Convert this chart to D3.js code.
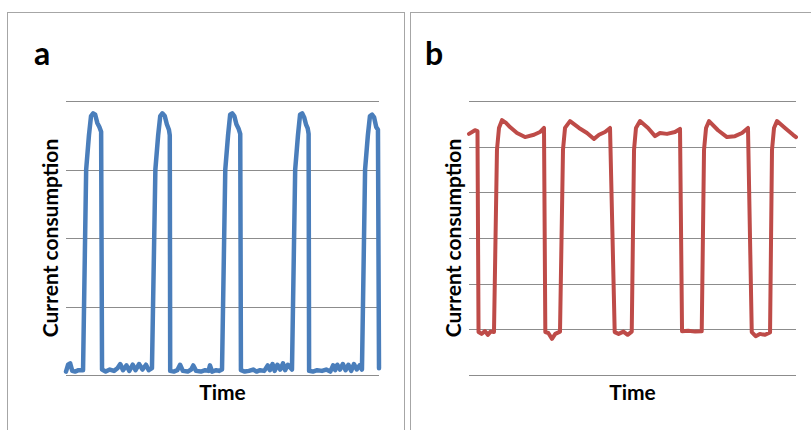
<!DOCTYPE html>
<html>
<head>
<meta charset="utf-8">
<script src="https://cdn.jsdelivr.net/npm/d3@7.9.0/dist/d3.min.js"></script>
<style>
  html, body { margin: 0; padding: 0; background: #fff; }
  svg { display: block; }
  text { font-family: Lato, "Open Sans", sans-serif; font-weight: bold; fill: #000; }
</style>
</head>
<body>
<svg id="chart" width="811" height="430"></svg>
<script>
// panel a: pulsed current (blue)
const timeA = [
  0, 0.3, 0.6, 0.9, 1.3, 1.8, 2.45,
  2.9, 3.3, 3.6, 3.9, 4.2, 4.5, 4.8, 5.05, 5.18,
  5.7, 6.3, 6.9, 7.4, 7.8, 8.2, 8.7, 9.1, 9.6, 10.0, 10.5, 11.0, 11.5, 11.9, 12.36,
  12.85, 13.25, 13.55, 13.85, 14.2, 14.5, 14.8, 14.92, 14.98,
  15.5, 16.0, 16.4, 16.8, 17.5, 18.0, 18.3, 18.7, 19.4, 20.0, 20.5, 20.7, 21.0, 21.6, 22.0, 22.43,
  22.9, 23.3, 23.6, 23.9, 24.2, 24.5, 24.8, 25.05, 25.15,
  25.7, 26.3, 26.9, 27.4, 27.9, 28.5, 29.0, 29.3, 29.7, 30.0, 30.4, 30.8, 31.2, 31.5, 31.9, 32.49,
  32.95, 33.35, 33.65, 33.95, 34.25, 34.5, 34.75, 34.88, 34.95,
  35.5, 36.1, 36.8, 37.4, 38.0, 38.4, 38.7, 39.0, 39.4, 39.8, 40.2, 40.6, 41.0, 41.4, 41.8, 42.2, 42.55,
  43.0, 43.4, 43.7, 44.0, 44.3, 44.6, 44.85, 45.0
];
const currentA = [
  0.05, 0.15, 0.17, 0.06, 0.05, 0.07, 0.07,
  3.0, 3.5, 3.78, 3.82, 3.8, 3.68, 3.62, 3.55, 0.08,
  0.05, 0.08, 0.06, 0.1, 0.16, 0.07, 0.14, 0.06, 0.15, 0.07, 0.16, 0.08, 0.15, 0.07, 0.1,
  3.0, 3.5, 3.78, 3.82, 3.78, 3.66, 3.58, 3.5, 0.06,
  0.05, 0.07, 0.15, 0.06, 0.05, 0.08, 0.14, 0.06, 0.05, 0.07, 0.06, 0.14, 0.05, 0.07, 0.06, 0.08,
  3.0, 3.5, 3.8, 3.82, 3.78, 3.66, 3.6, 3.52, 0.07,
  0.05, 0.06, 0.08, 0.05, 0.07, 0.06, 0.14, 0.07, 0.16, 0.06, 0.15, 0.08, 0.17, 0.07, 0.15, 0.08,
  3.0, 3.5, 3.8, 3.82, 3.76, 3.66, 3.6, 3.52, 0.06,
  0.05, 0.07, 0.06, 0.08, 0.05, 0.14, 0.07, 0.15, 0.08, 0.16, 0.07, 0.15, 0.06, 0.16, 0.08, 0.14, 0.08,
  3.0, 3.5, 3.78, 3.8, 3.76, 3.62, 3.58, 0.1
];

// panel b: current that never drops to zero (red)
const timeB = [
  0, 0.86, 1.22, 1.37,
  1.8, 2.3, 2.7, 3.1, 3.59,
  4.02, 4.31, 4.74, 5.32, 5.89, 6.9, 8.05, 9.34, 10.2, 10.78, 10.97,
  11.4, 11.93, 12.4, 13.08,
  13.51, 13.8, 14.52, 15.81, 16.96, 17.97, 18.69, 19.55, 20.27, 20.94,
  21.5, 22.2, 22.8, 23.39,
  23.72, 24.0, 24.58, 25.73, 26.74, 27.45, 28.46, 29.61, 30.33, 30.62,
  31.5, 32.5, 33.45,
  33.78, 34.07, 34.5, 35.79, 37.08, 38.23, 39.24, 40.1, 40.64,
  41.2, 41.8, 42.5, 43.27,
  43.55, 43.84, 44.27, 45.42, 46.57, 47.0
];
const currentB = [
  5.28, 5.36, 5.34, 0.94,
  0.9, 0.96, 0.88, 0.95, 0.94,
  4.93, 5.41, 5.58, 5.52, 5.43, 5.3, 5.21, 5.26, 5.32, 5.41, 0.94,
  0.92, 0.79, 0.9, 0.95,
  4.93, 5.41, 5.56, 5.41, 5.3, 5.17, 5.26, 5.32, 5.41, 0.94,
  0.9, 0.95, 0.88, 0.95,
  4.93, 5.41, 5.56, 5.41, 5.23, 5.3, 5.28, 5.32, 5.39, 0.96,
  0.97, 0.95, 0.96,
  4.93, 5.41, 5.56, 5.36, 5.21, 5.23, 5.3, 5.41, 0.94,
  0.85, 0.9, 0.88, 0.93,
  4.93, 5.41, 5.56, 5.41, 5.26, 5.21
];

const gridA = [0, 1, 2, 3, 4];
const gridB = [0, 1, 2, 3, 4, 5, 6];

const svg = d3.select("#chart");

function drawPanel(opts) {
  const g = svg.append("g");

  g.append("rect")
    .attr("x", opts.frame[0] + 0.5)
    .attr("y", opts.frame[1] + 0.5)
    .attr("width", opts.frame[2])
    .attr("height", opts.frame[3])
    .attr("fill", "none")
    .attr("stroke", "#a6a6a6")
    .attr("stroke-width", 1);

  const x = d3.scaleLinear().domain(opts.xDomain).range([opts.left, opts.right]);
  const y = d3.scaleLinear().domain(d3.extent(opts.grid)).range([opts.bottom, opts.top]);

  g.selectAll("line.grid")
    .data(opts.grid)
    .join("line")
    .attr("class", "grid")
    .attr("x1", opts.left)
    .attr("x2", opts.right)
    .attr("y1", (d) => Math.round(y(d)) + 0.5)
    .attr("y2", (d) => Math.round(y(d)) + 0.5)
    .attr("stroke", "#8c8c8c")
    .attr("stroke-width", 1);

  const points = opts.times.map((t, i) => [t, opts.values[i]]);
  const line = d3.line().x((d) => x(d[0])).y((d) => y(d[1]));

  g.append("path")
    .datum(points)
    .attr("d", line)
    .attr("fill", "none")
    .attr("stroke", opts.color)
    .attr("stroke-width", opts.width)
    .attr("stroke-linejoin", "round")
    .attr("stroke-linecap", "round");

  g.append("text")
    .attr("x", opts.letterPos[0])
    .attr("y", opts.letterPos[1])
    .attr("font-size", 32)
    .text(opts.letter);

  g.append("text")
    .attr("x", (opts.left + opts.right) / 2)
    .attr("y", 400)
    .attr("text-anchor", "middle")
    .attr("font-size", 21)
    .text("Time");

  g.append("text")
    .attr("transform", `translate(${opts.yLabelX},${(opts.top + opts.bottom) / 2}) rotate(-90)`)
    .attr("text-anchor", "middle")
    .attr("font-size", 21)
    .text("Current consumption");
}

drawPanel({
  frame: [7, 12, 397, 430],
  left: 66, right: 379, top: 101, bottom: 375,
  xDomain: [0, 45],
  grid: gridA,
  times: timeA, values: currentA,
  color: "#4a7ebb", width: 4.5,
  letter: "a", letterPos: [34, 65],
  yLabelX: 58
});

drawPanel({
  frame: [410, 12, 420, 430],
  left: 469, right: 796, top: 101, bottom: 375,
  xDomain: [0, 47],
  grid: gridB,
  times: timeB, values: currentB,
  color: "#be4b48", width: 4,
  letter: "b", letterPos: [425, 65],
  yLabelX: 461
});
</script>
</body>
</html>
